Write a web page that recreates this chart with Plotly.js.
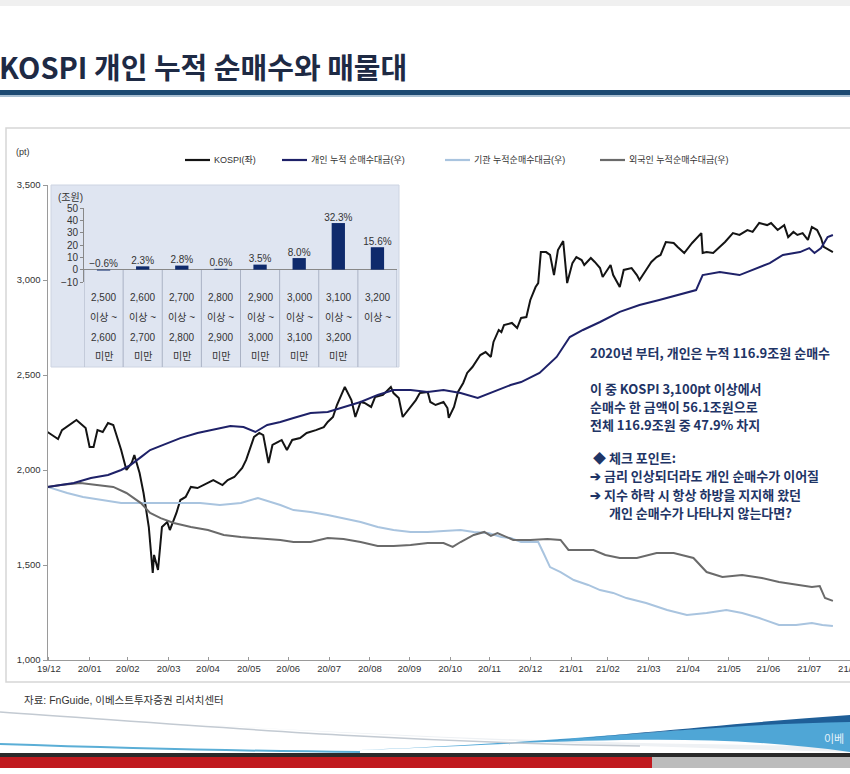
<!DOCTYPE html>
<html><head><meta charset="utf-8">
<script src="https://cdn.plot.ly/plotly-3.0.1.min.js"></script>
<style>html,body{margin:0;padding:0;background:#fff;}#chart{width:850px;height:774px;}</style>
</head><body><div id="chart"></div>
<script>
// ---------------- DATA ----------------
const seriesNames = ['KOSPI(좌)', '개인 누적 순매수대금(우)', '기관 누적순매수대금(우)', '외국인 누적순매수대금(우)'];

const kospiDates = ['2019-12-30','2020-01-07','2020-01-10','2020-01-21','2020-01-28','2020-01-31','2020-02-03','2020-02-06','2020-02-10','2020-02-14','2020-02-18','2020-02-24','2020-02-28','2020-03-03','2020-03-05','2020-03-09','2020-03-12','2020-03-16','2020-03-19','2020-03-20','2020-03-23','2020-03-26','2020-03-30','2020-04-01','2020-04-06','2020-04-09','2020-04-13','2020-04-17','2020-04-22','2020-04-29','2020-05-04','2020-05-11','2020-05-15','2020-05-20','2020-05-26','2020-05-29','2020-06-04','2020-06-08','2020-06-11','2020-06-15','2020-06-18','2020-06-22','2020-06-25','2020-06-29','2020-07-03','2020-07-09','2020-07-14','2020-07-21','2020-07-27','2020-07-30','2020-08-03','2020-08-06','2020-08-12','2020-08-17','2020-08-20','2020-08-24','2020-08-27','2020-09-01','2020-09-04','2020-09-10','2020-09-16','2020-09-18','2020-09-22','2020-09-25','2020-09-29','2020-10-05','2020-10-08','2020-10-14','2020-10-16','2020-10-20','2020-10-26','2020-10-29','2020-10-30','2020-11-03','2020-11-06','2020-11-10','2020-11-13','2020-11-17','2020-11-23','2020-11-27','2020-12-01','2020-12-03','2020-12-07','2020-12-09','2020-12-11','2020-12-17','2020-12-21','2020-12-24','2020-12-28','2020-12-31','2021-01-04','2021-01-06','2021-01-08','2021-01-12','2021-01-15','2021-01-18','2021-01-21','2021-01-25','2021-01-28','2021-02-01','2021-02-04','2021-02-08','2021-02-10','2021-02-15','2021-02-18','2021-02-22','2021-02-24','2021-03-02','2021-03-04','2021-03-09','2021-03-12','2021-03-18','2021-03-22','2021-03-24','2021-03-29','2021-04-02','2021-04-06','2021-04-09','2021-04-13','2021-04-19','2021-04-22','2021-04-27','2021-05-03','2021-05-10','2021-05-11','2021-05-14','2021-05-19','2021-05-24','2021-05-28','2021-06-03','2021-06-08','2021-06-14','2021-06-18','2021-06-23','2021-06-29','2021-07-02','2021-07-07','2021-07-12','2021-07-15','2021-07-19','2021-07-22','2021-07-26','2021-07-30','2021-08-02','2021-08-06','2021-08-09','2021-08-11','2021-08-18'];
const kospiValues = [2200,2163,2210,2263,2221,2121,2121,2210,2200,2247,2237,2105,2000,2037,2079,1984,1879,1700,1458,1553,1474,1700,1726,1684,1774,1842,1858,1911,1905,1932,1947,1921,1947,1963,2011,2053,2174,2195,2184,2037,2132,2147,2158,2105,2158,2168,2195,2210,2226,2253,2279,2342,2437,2368,2279,2358,2353,2332,2384,2395,2437,2405,2379,2279,2316,2368,2405,2411,2358,2342,2358,2326,2274,2332,2411,2458,2511,2542,2605,2621,2595,2674,2737,2726,2763,2774,2747,2800,2805,2895,2963,2984,3147,3147,3132,3026,3158,3205,2984,3089,3121,3105,3079,3116,3095,3063,3016,3079,3026,2963,3053,3063,3026,3000,3053,3095,3121,3132,3200,3195,3174,3142,3195,3247,3142,3147,3142,3174,3200,3247,3237,3263,3253,3300,3289,3300,3263,3289,3226,3253,3237,3247,3211,3279,3263,3221,3174,3147];

const indivDates = ['2019-12-30','2020-01-19','2020-02-01','2020-02-14','2020-02-24','2020-03-02','2020-03-10','2020-03-17','2020-03-27','2020-04-09','2020-04-22','2020-05-04','2020-05-17','2020-05-27','2020-06-05','2020-06-14','2020-06-24','2020-07-04','2020-07-17','2020-07-30','2020-08-11','2020-08-24','2020-09-06','2020-09-18','2020-10-01','2020-10-14','2020-10-26','2020-11-08','2020-11-21','2020-12-03','2020-12-16','2020-12-24','2021-01-07','2021-01-20','2021-01-30','2021-02-09','2021-02-22','2021-03-09','2021-03-24','2021-04-08','2021-04-23','2021-05-06','2021-05-11','2021-05-24','2021-06-08','2021-06-21','2021-07-01','2021-07-11','2021-07-24','2021-07-31','2021-08-04','2021-08-09','2021-08-14','2021-08-18'];
const indivValues = [1911,1932,1958,1974,2000,2026,2068,2105,2132,2168,2195,2211,2232,2226,2200,2237,2253,2274,2300,2305,2332,2358,2395,2421,2421,2411,2421,2405,2379,2411,2447,2463,2511,2595,2700,2737,2779,2832,2868,2895,2921,2947,3026,3042,3026,3063,3089,3132,3147,3168,3142,3168,3226,3237];

const instDates = ['2019-12-30','2020-01-14','2020-01-26','2020-02-08','2020-02-24','2020-03-10','2020-03-25','2020-04-09','2020-04-24','2020-05-09','2020-05-25','2020-06-07','2020-06-24','2020-07-04','2020-07-17','2020-07-30','2020-08-11','2020-08-24','2020-09-06','2020-09-18','2020-10-01','2020-10-14','2020-10-26','2020-11-08','2020-11-18','2020-11-29','2020-12-09','2020-12-16','2020-12-24','2021-01-06','2021-01-10','2021-01-15','2021-01-23','2021-02-02','2021-02-13','2021-02-22','2021-03-04','2021-03-14','2021-03-29','2021-04-14','2021-04-29','2021-05-14','2021-05-29','2021-06-10','2021-06-23','2021-07-08','2021-07-21','2021-08-02','2021-08-10','2021-08-18'];
const instValues = [1911,1879,1858,1842,1826,1826,1826,1826,1826,1816,1826,1853,1816,1789,1779,1763,1747,1726,1700,1684,1674,1674,1679,1684,1674,1668,1647,1642,1621,1621,1563,1489,1463,1421,1395,1368,1353,1326,1300,1263,1237,1247,1263,1247,1221,1184,1184,1195,1184,1179];

const foreignDates = ['2019-12-30','2020-01-09','2020-01-24','2020-02-06','2020-02-18','2020-02-28','2020-03-10','2020-03-17','2020-03-25','2020-04-04','2020-04-17','2020-04-30','2020-05-12','2020-05-25','2020-06-07','2020-06-24','2020-07-04','2020-07-17','2020-07-30','2020-08-11','2020-08-24','2020-09-06','2020-09-18','2020-10-01','2020-10-14','2020-10-26','2020-11-02','2020-11-08','2020-11-18','2020-11-26','2020-12-01','2020-12-06','2020-12-18','2020-12-31','2021-01-13','2021-01-23','2021-01-29','2021-02-08','2021-02-17','2021-02-26','2021-03-09','2021-03-22','2021-04-06','2021-04-19','2021-05-04','2021-05-14','2021-05-26','2021-06-10','2021-06-25','2021-07-08','2021-07-24','2021-08-02','2021-08-08','2021-08-12','2021-08-18'];
const foreignValues = [1911,1921,1932,1921,1911,1879,1826,1774,1747,1721,1700,1684,1658,1647,1642,1632,1621,1621,1642,1637,1621,1600,1600,1605,1616,1616,1595,1621,1658,1674,1653,1668,1632,1632,1637,1632,1579,1579,1579,1553,1537,1537,1563,1563,1537,1463,1437,1447,1432,1411,1395,1384,1389,1326,1311];

const tickDates = ['2019-12-31','2020-01-31','2020-02-29','2020-03-31','2020-04-30','2020-05-31','2020-06-30','2020-07-31','2020-08-31','2020-09-30','2020-10-31','2020-11-30','2020-12-31','2021-01-31','2021-02-28','2021-03-31','2021-04-30','2021-05-31','2021-06-30','2021-07-31','2021-08-31'];
const tickLabels = ['19/12','20/01','20/02','20/03','20/04','20/05','20/06','20/07','20/08','20/09','20/10','20/11','20/12','21/01','21/02','21/03','21/04','21/05','21/06','21/07','21/08'];
const yTickVals = [1000,1500,2000,2500,3000,3500];
const yTickLabels = ['1,000','1,500','2,000','2,500','3,000','3,500'];

// inset: individual net buying by KOSPI band
const bandLow = ['2,500','2,600','2,700','2,800','2,900','3,000','3,100','3,200'];
const bandHigh = ['2,600','2,700','2,800','2,900','3,000','3,100','3,200',''];
const bandNetBuy = [-0.7, 2.7, 3.3, 0.7, 4.1, 9.4, 37.8, 18.2];
const bandShare = ['−0.6%','2.3%','2.8%','0.6%','3.5%','8.0%','32.3%','15.6%'];
const insetTickVals = [-10,0,10,20,30,40,50];
const insetTickLabels = ['−10','0','10','20','30','40','50'];

// ---------------- LAYOUT HELPERS ----------------
const W = 850, H = 774;
const px = x => x / W;
const py = y => 1 - y / H;
const FONT = 'Liberation Sans Narrow, Liberation Sans, Noto Sans CJK KR, sans-serif';
const KFONT = 'Noto Sans CJK KR, Noto Sans, sans-serif';
const colors = ['#141414', '#1e2168', '#a9c4df', '#6a6a6a'];

function curvePx(a, b, c, d, e) {
  const f = p => px(p[0]) + ',' + py(p[1]);
  return 'M ' + f(a) + ' C ' + f(b) + ' ' + f(c) + ' ' + f(d) + ' L ' + f(e) + ' C ' + f(c) + ' ' + f(b) + ' ' + f(a) + ' Z';
}
function openCurvePx(a, b, c, d) {
  const f = p => px(p[0]) + ',' + py(p[1]);
  return 'M ' + f(a) + ' C ' + f(b) + ' ' + f(c) + ' ' + f(d);
}

const traces = [
  {x: instDates, y: instValues, name: seriesNames[2], type: 'scatter', mode: 'lines', yaxis: 'y2', line: {color: colors[2], width: 2}},
  {x: foreignDates, y: foreignValues, name: seriesNames[3], type: 'scatter', mode: 'lines', yaxis: 'y2', line: {color: colors[3], width: 2}},
  {x: indivDates, y: indivValues, name: seriesNames[1], type: 'scatter', mode: 'lines', yaxis: 'y2', line: {color: colors[1], width: 2}},
  {x: kospiDates, y: kospiValues, name: seriesNames[0], type: 'scatter', mode: 'lines', line: {color: colors[0], width: 2}},
  {x: bandLow, y: bandNetBuy, type: 'bar', xaxis: 'x2', yaxis: 'y3', marker: {color: '#0f2a6c'}},
  {x: bandLow, y: bandNetBuy.map(v => Math.max(v, 0)), type: 'scatter', mode: 'text', xaxis: 'x2', yaxis: 'y3',
   text: bandShare, textposition: 'top center', textfont: {family: FONT, size: 10, color: '#333'}, cliponaxis: false}
];

const shapes = [
  {type: 'rect', xref: 'paper', yref: 'paper', x0: 0, x1: 1, y0: py(0), y1: py(6), fillcolor: '#f0f0f0', line: {width: 0}, layer: 'below'},
  {type: 'rect', xref: 'paper', yref: 'paper', x0: 0, x1: 1, y0: py(90), y1: py(95), fillcolor: '#1d4a72', line: {width: 0}},
  {type: 'rect', xref: 'paper', yref: 'paper', x0: 0, x1: 1, y0: py(95), y1: py(97), fillcolor: '#a9bfd2', line: {width: 0}},
  {type: 'rect', xref: 'paper', yref: 'paper', x0: px(6), x1: px(860), y0: py(128), y1: py(682), line: {color: '#d6d6d6', width: 1.5}, layer: 'below'},
  {type: 'rect', xref: 'paper', yref: 'paper', x0: px(51), x1: px(399), y0: py(185), y1: py(367), fillcolor: '#dfe5f1', line: {color: '#cdd4e2', width: 1}, layer: 'below'},
  {type: 'path', xref: 'paper', yref: 'paper', path: curvePx([0,712],[250,728],[500,744],[850,746],[850,752]), fillcolor: '#eef1f4', line: {width: 0}, layer: 'below'},
  {type: 'path', xref: 'paper', yref: 'paper', path: curvePx([300,752],[520,746],[680,728],[850,718],[850,752]), fillcolor: '#4fa6d6', line: {width: 0}},
  {type: 'path', xref: 'paper', yref: 'paper', path: curvePx([430,750],[600,738],[720,724],[850,715],[850,722]), fillcolor: '#1f5f98', line: {width: 0}},
  {type: 'path', xref: 'paper', yref: 'paper', path: openCurvePx([0,712],[180,724],[380,742],[640,746]), line: {color: '#c3cad2', width: 1.5}},
  {type: 'path', xref: 'paper', yref: 'paper', path: openCurvePx([0,744],[120,748],[240,751],[360,752]), line: {color: '#5aaed6', width: 2}},
  {type: 'rect', xref: 'paper', yref: 'paper', x0: 0, x1: 1, y0: py(753), y1: py(757), fillcolor: '#2a2a2a', line: {width: 0}},
  {type: 'rect', xref: 'paper', yref: 'paper', x0: 0, x1: px(652), y0: py(757), y1: py(768), fillcolor: '#c01a1f', line: {width: 0}},
  {type: 'rect', xref: 'paper', yref: 'paper', x0: px(652), x1: 1, y0: py(757), y1: py(768), fillcolor: '#bcbcbc', line: {width: 0}},
];

for (let i = 0; i <= bandLow.length; i++) {
  shapes.push({type: 'line', xref: 'x2', yref: 'paper', x0: i - 0.5, x1: i - 0.5, y0: py(270), y1: py(367), line: {color: '#aab2c4', width: 1}});
}

const legendX = [185, 282, 445, 600];
const annotations = [];
seriesNames.forEach((n, i) => {
  shapes.push({type: 'line', xref: 'paper', yref: 'paper', x0: px(legendX[i]), x1: px(legendX[i] + 25), y0: py(160), y1: py(160), line: {color: colors[i], width: 2.2}});
  annotations.push({xref: 'paper', yref: 'paper', x: px(legendX[i] + 27), y: py(160), xanchor: 'left', yanchor: 'middle', showarrow: false, text: n, font: {family: FONT, size: 9, color: '#333'}});
});

bandLow.forEach((lo, i) => {
  const rows = [lo, '이상 ~', bandHigh[i], bandHigh[i] ? '미만' : ''];
  const ys = [297, 317, 337, 357];
  rows.forEach((t, r) => {
    if (!t) return;
    annotations.push({xref: 'x2', yref: 'paper', x: i, y: py(ys[r]), xanchor: 'center', yanchor: 'middle', showarrow: false, text: t, font: {family: FONT, size: 10, color: '#333'}});
  });
});

const navy = '#1f3566';
const texts = [
  [588, 352, '<b>2020년 부터, 개인은 누적 116.9조원 순매수</b>'],
  [588, 388, '<b>이 중 KOSPI 3,100pt 이상에서</b>'],
  [588, 406, '<b>순매수 한 금액이 56.1조원으로</b>'],
  [588, 424, '<b>전체 116.9조원 중 47.9% 차지</b>'],
  [591, 457, '<b>◆ 체크 포인트:</b>'],
  [588, 476, '<b>➔ 금리 인상되더라도 개인 순매수가 이어질</b>'],
  [588, 494, '<b>➔ 지수 하락 시 항상 하방을 지지해 왔던</b>'],
  [607, 512, '<b>개인 순매수가 나타나지 않는다면?</b>'],
];
texts.forEach(t => annotations.push({xref: 'paper', yref: 'paper', x: px(t[0]), y: py(t[1]), xanchor: 'left', yanchor: 'middle', showarrow: false, text: t[2], font: {family: KFONT, size: 13, color: navy}}));

annotations.push(
  {xref: 'paper', yref: 'paper', x: px(-3), y: py(66), xanchor: 'left', yanchor: 'middle', showarrow: false, text: '<b>KOSPI 개인 누적 순매수와 매물대</b>', font: {family: KFONT, size: 29, color: '#1e2a44'}},
  {xref: 'paper', yref: 'paper', x: px(14), y: py(152), xanchor: 'left', yanchor: 'middle', showarrow: false, text: '(pt)', font: {family: FONT, size: 9, color: '#333'}},
  {xref: 'paper', yref: 'paper', x: px(56), y: py(197), xanchor: 'left', yanchor: 'middle', showarrow: false, text: '(조원)', font: {family: FONT, size: 10, color: '#333'}},
  {xref: 'paper', yref: 'paper', x: px(22), y: py(700), xanchor: 'left', yanchor: 'middle', showarrow: false, text: '자료: FnGuide, 이베스트투자증권 리서치센터', font: {family: FONT, size: 10.5, color: '#333'}},
  {xref: 'paper', yref: 'paper', x: px(822), y: py(738), xanchor: 'left', yanchor: 'middle', showarrow: false, text: '이베', font: {family: KFONT, size: 11, color: '#e6f2fa'}}
);

const layout = {
  width: W, height: H,
  margin: {l: 0, r: 0, t: 0, b: 0},
  paper_bgcolor: '#ffffff', plot_bgcolor: 'rgba(0,0,0,0)',
  showlegend: false,
  font: {family: FONT, size: 9, color: '#333'},
  bargap: 0.66,
  xaxis: {
    domain: [px(47.5), 1], type: 'date', range: ['2019-12-30', '2021-08-31'],
    tickvals: tickDates, ticktext: tickLabels, ticks: 'inside', ticklen: 3, tickcolor: '#999',
    showline: true, linecolor: '#9a9a9a', linewidth: 1, showgrid: false, zeroline: false,
    tickfont: {family: FONT, size: 9.5, color: '#333'}, ticklabeloverflow: 'allow', anchor: 'y'
  },
  yaxis: {
    domain: [py(660), py(185)], range: [1000, 3500], tickvals: yTickVals, ticktext: yTickLabels,
    ticks: 'outside', ticklen: 4, tickcolor: '#999', showline: true, linecolor: '#9a9a9a', linewidth: 1,
    showgrid: false, zeroline: false, tickfont: {family: FONT, size: 9.5, color: '#333'}, anchor: 'x'
  },
  yaxis2: {
    domain: [py(660), py(185)], range: [1000, 3500], overlaying: 'y', side: 'right', anchor: 'x',
    showticklabels: false, showline: false, showgrid: false, zeroline: false, ticks: ''
  },
  xaxis2: {
    domain: [px(84), px(397)], anchor: 'y3', type: 'category', range: [-0.5, 7.5],
    showticklabels: false, showline: false, showgrid: false, zeroline: false, ticks: ''
  },
  yaxis3: {
    domain: [py(282), py(208)], anchor: 'x2', range: [-10, 50], tickvals: insetTickVals, ticktext: insetTickLabels,
    ticks: 'outside', ticklen: 3, tickcolor: '#888', showline: true, linecolor: '#888', linewidth: 1,
    showgrid: false, zeroline: true, zerolinecolor: '#888', zerolinewidth: 1,
    tickfont: {family: FONT, size: 10, color: '#333'}
  },
  shapes: shapes,
  annotations: annotations
};

Plotly.newPlot('chart', traces, layout, {staticPlot: true, displayModeBar: false});
</script>
</body></html>
